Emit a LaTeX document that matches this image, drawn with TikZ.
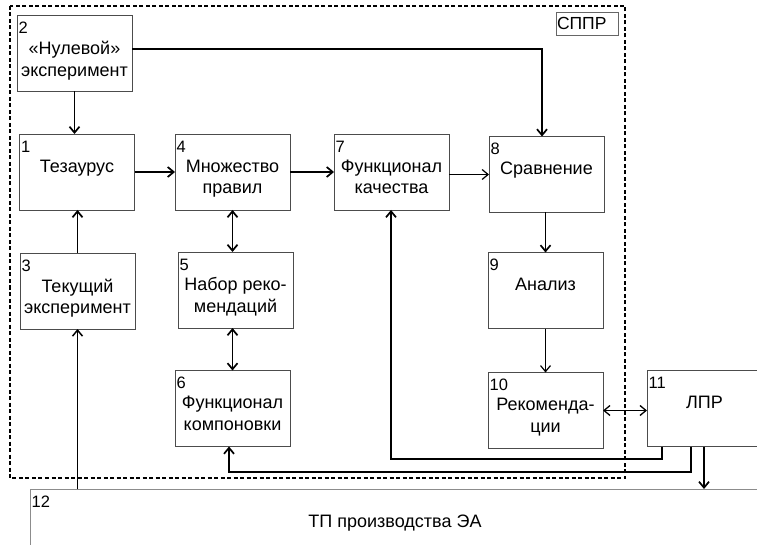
\documentclass[tikz,border=0pt]{standalone}
\usepackage{fontspec}
\setmainfont{Liberation Sans}
\usetikzlibrary{arrows.meta}

\begin{document}
\begin{tikzpicture}[x=1pt, y=-1pt,
	blk/.style={draw=black!70, line width=0.8pt, minimum width=115pt, minimum height=76pt, inner sep=0pt, outer sep=0pt},
	txt/.style={anchor=north, inner sep=0pt, align=center, font=\fontsize{18}{21.5}\selectfont},
	num/.style={anchor=north west, inner sep=0pt, font=\fontsize{16.5}{16.5}\selectfont},
	arr/.style={-{Straight Barb[length=6pt,width=10pt]}, line width=1.7pt},
	thinarr/.style={arr, line width=1.2pt},
	both/.style={{Straight Barb[length=6pt,width=10pt]}-{Straight Barb[length=6pt,width=10pt]}, line width=1.7pt},
	frame/.style={draw=black, line width=1.2pt, dash pattern=on 4pt off 2.5pt}]
	\useasboundingbox (0,0) rectangle (757,545);
	% outer frame of the decision support system
	\draw[frame] (10,6) rectangle (625,478);
	\node[draw=black!60, line width=0.8pt, minimum width=62pt, minimum height=23pt, inner sep=1pt, text width=60pt, font=\fontsize{17.5}{17.5}\selectfont](sppr) at (587,23.5){СППР};
	% blocks
	\node[blk](b2) at (74.5,53.5){};
	\node[blk](b1) at (77,172){};
	\node[blk](b4) at (232.5,172){};
	\node[blk](b7) at (391.5,172){};
	\node[blk](b8) at (546.5,174.5){};
	\node[blk](b3) at (77.5,291){};
	\node[blk](b5) at (235.5,290){};
	\node[blk](b6) at (232.5,408.5){};
	\node[blk](b9) at (545.5,290.5){};
	\node[blk](b10) at (545.5,410.5){};
	\node[blk](b11) at (704.5,408.5){};
	\node[draw=black!45, line width=0.8pt, minimum width=730pt, minimum height=68pt, inner sep=0pt, outer sep=0pt](b12) at (395,523){};
	% numbers
	\node[num](n2) at ([shift={(1.5pt,-6.5pt)}]b2.north west){2};
	\node[num](n1) at ([shift={(1.5pt,-6.5pt)}]b1.north west){1};
	\node[num](n4) at ([shift={(1.5pt,-6.5pt)}]b4.north west){4};
	\node[num](n7) at ([shift={(1.5pt,-6.5pt)}]b7.north west){7};
	\node[num](n8) at ([shift={(1.5pt,-6.5pt)}]b8.north west){8};
	\node[num](n3) at ([shift={(1.5pt,-6.5pt)}]b3.north west){3};
	\node[num](n5) at ([shift={(1.5pt,-6.5pt)}]b5.north west){5};
	\node[num](n6) at ([shift={(1.5pt,-6.5pt)}]b6.north west){6};
	\node[num](n9) at ([shift={(1.5pt,-6.5pt)}]b9.north west){9};
	\node[num](n10) at ([shift={(1.5pt,-6.5pt)}]b10.north west){10};
	\node[num](n11) at ([shift={(1.5pt,-6.5pt)}]b11.north west){11};
	\node[num](n12) at ([shift={(1.5pt,-6.5pt)}]b12.north west){12};
	% texts
	\node[txt](t2) at ([yshift=-25.5pt]b2.north){«Нулевой»\\эксперимент};
	\node[txt](t1) at ([yshift=-25.5pt]b1.north){Тезаурус};
	\node[txt](t4) at ([yshift=-25.5pt]b4.north){Множество\\правил};
	\node[txt](t7) at ([yshift=-25.5pt]b7.north){Функционал\\качества};
	\node[txt](t8) at ([yshift=-25.5pt]b8.north){Сравнение};
	\node[txt](t3) at ([yshift=-25.5pt]b3.north){Текущий\\эксперимент};
	\node[txt](t5) at ([yshift=-25.5pt]b5.north){Набор реко-\\мендаций};
	\node[txt](t6) at ([yshift=-25.5pt]b6.north){Функционал\\компоновки};
	\node[txt](t9) at ([yshift=-25.5pt]b9.north){Анализ};
	\node[txt](t10) at ([yshift=-25.5pt]b10.north){Рекоменда-\\ции};
	\node[txt](t11) at ([yshift=-25.5pt]b11.north){ЛПР};
	\node[txt, anchor=center](t12) at (b12.center){ТП производства ЭА};
	% connectors
	\coordinate (c8) at (542,49);
	\coordinate (c7) at (391,459);
	\coordinate (c6) at (229,472);
	\draw[arr] (b2.south) -- (b2.south |- b1.north);
	\draw[arr] (b2.east |- c8) -- (c8) -- (c8 |- b8.north);
	\draw[arr] (b1.east) -- (b4.west);
	\draw[arr] (b4.east) -- (b7.west);
	\draw[thinarr] (b7.east |- b8.west) -- (b8.west);
	\draw[arr] (b3.north) -- (b3.north |- b1.south);
	\draw[both] (b4.south) -- (b4.south |- b5.north);
	\draw[both] (b6.north |- b5.south) -- (b6.north);
	\draw[arr] (b9.north |- b8.south) -- (b9.north);
	\draw[thinarr] (b9.south) -- (b10.north);
	\draw[both, line width=1.3pt] (b10.east) -- (b10.east -| b11.west);
	\draw[arr] ([xshift=15pt]b11.south west) |- (c7) -- (c7 |- b7.south);
	\draw[arr] ([xshift=44pt]b11.south west) |- (c6) -- (c6 |- b6.south);
	\draw[arr] ([xshift=57pt]b11.south west) -- ([xshift=57pt]b11.south west |- b12.north);
	\draw[arr, line width=1.5pt] (b3.south |- b12.north) -- (b3.south);
\end{tikzpicture}
\end{document}
